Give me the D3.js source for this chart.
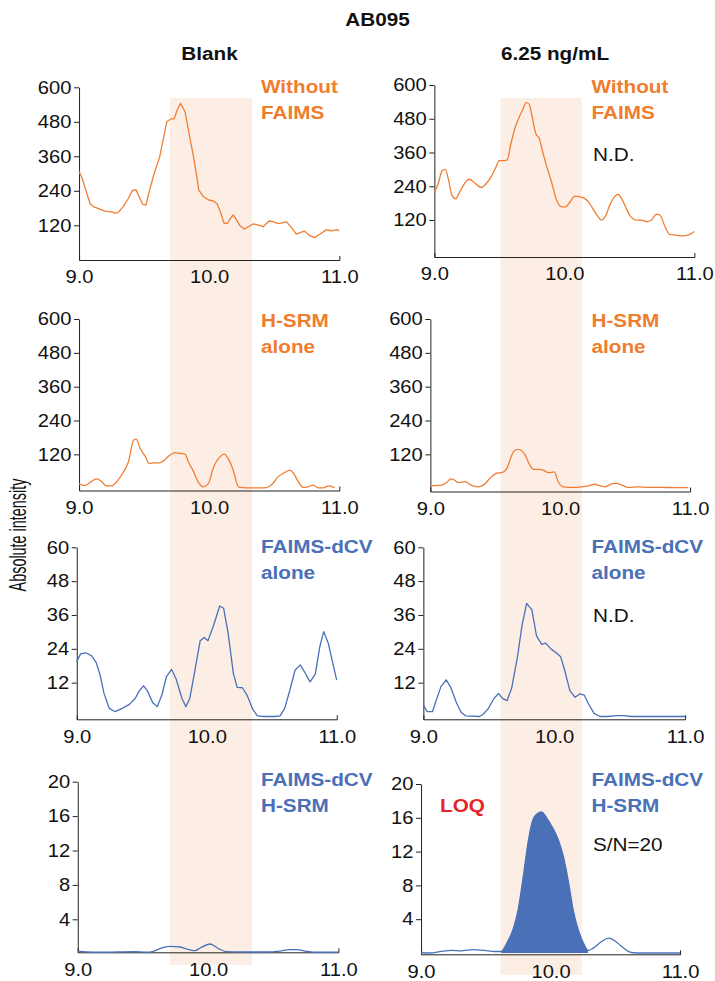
<!DOCTYPE html>
<meta charset="UTF-8">
<!-- Load d3.js -->
<script src="https://cdn.jsdelivr.net/npm/d3@7"></script>
<style>
  body { margin: 0; background: #fff; }
  svg text { font-family: "Liberation Sans", Arial, Helvetica, sans-serif; fill: #111; }
</style>
<div id="my_dataviz"></div>
<script>

// ticks
var xTicks = [9, 10, 11];
var yTicksHigh = [120, 240, 360, 480, 600];
var yTicksMid = [12, 24, 36, 48, 60];
var yTicksLow = [4, 8, 12, 16, 20];

var chartTitle = "AB095";
var columnTitles = ["Blank", "6.25 ng/mL"];

// highlighted retention window of each column (min)
var bandBlank = [9.70, 10.33];
var bandSpiked = [9.51, 10.135];

// [retention time (min), absolute intensity]
var blankWithout = [[9.0,307],[9.02,289],[9.085,196],[9.11,185],[9.16,176],[9.2,169],[9.26,166],[9.275,162],[9.3,164],[9.34,185],[9.38,214],[9.41,241],[9.44,243],[9.455,226],[9.49,193],[9.515,191],[9.53,220],[9.57,289],[9.62,359],[9.675,481],[9.705,490],[9.73,490],[9.755,521],[9.78,544],[9.815,515],[9.85,428],[9.88,359],[9.905,289],[9.92,243],[9.955,220],[9.995,208],[10.03,205],[10.06,196],[10.085,168],[10.115,127],[10.14,127],[10.16,142],[10.185,156],[10.21,139],[10.235,119],[10.27,107],[10.3,115],[10.34,125],[10.365,122],[10.415,115],[10.46,135],[10.49,133],[10.53,126],[10.595,132],[10.635,110],[10.67,89],[10.73,100],[10.775,84],[10.81,77],[10.85,89],[10.9,104],[10.94,101],[10.98,105],[11.0,101]];

var spikedWithout = [[9.0,217],[9.03,250],[9.06,295],[9.085,300],[9.11,262],[9.135,209],[9.165,195],[9.19,215],[9.225,244],[9.265,265],[9.29,260],[9.33,244],[9.36,236],[9.4,250],[9.44,276],[9.47,304],[9.5,331],[9.52,331],[9.56,333],[9.59,393],[9.62,446],[9.66,493],[9.685,517],[9.705,537],[9.73,531],[9.75,493],[9.78,428],[9.81,407],[9.83,369],[9.865,310],[9.905,250],[9.94,191],[9.98,167],[10.01,167],[10.045,185],[10.08,205],[10.115,203],[10.155,197],[10.185,185],[10.225,156],[10.26,132],[10.285,120],[10.315,132],[10.35,173],[10.39,205],[10.415,211],[10.44,197],[10.48,158],[10.51,132],[10.555,120],[10.595,120],[10.635,114],[10.67,120],[10.71,141],[10.735,138],[10.775,96],[10.81,69],[10.85,67],[10.915,64],[10.965,69],[11.0,79]];

var blankHsrm = [[9.0,15],[9.045,9],[9.085,20],[9.135,33],[9.175,23],[9.21,8],[9.25,8],[9.29,23],[9.335,53],[9.38,94],[9.42,171],[9.44,174],[9.47,141],[9.51,112],[9.54,88],[9.575,90],[9.615,90],[9.65,97],[9.685,112],[9.74,126],[9.775,123],[9.815,121],[9.84,94],[9.875,64],[9.92,19],[9.955,5],[9.995,17],[10.03,70],[10.085,112],[10.115,121],[10.145,106],[10.185,64],[10.225,5],[10.26,2],[10.315,1],[10.39,1],[10.44,2],[10.48,12],[10.53,41],[10.58,55],[10.62,64],[10.645,55],[10.685,23],[10.72,3],[10.76,5],[10.8,11],[10.84,1],[10.875,1],[10.92,8],[10.965,1]];

var spikedHsrm = [[9.0,9],[9.087,11],[9.126,20],[9.157,33],[9.185,29],[9.216,20],[9.267,23],[9.313,11],[9.365,5],[9.41,11],[9.46,35],[9.51,53],[9.55,55],[9.59,70],[9.615,102],[9.64,129],[9.673,138],[9.704,133],[9.73,118],[9.76,88],[9.795,67],[9.838,67],[9.87,64],[9.91,55],[9.955,58],[9.985,23],[10.025,5],[10.09,3],[10.166,5],[10.217,8],[10.264,14],[10.31,8],[10.345,5],[10.397,15],[10.435,17],[10.475,11],[10.525,3],[10.6,5],[10.68,3],[10.78,3],[10.885,2],[10.987,2]];

var blankFaims = [[9.0,19.4],[9.03,22.2],[9.07,22.6],[9.115,21.5],[9.15,19.1],[9.18,14.7],[9.21,8.2],[9.25,2.9],[9.295,1.7],[9.35,2.9],[9.405,4.3],[9.45,6.4],[9.48,9.0],[9.515,10.9],[9.545,9.0],[9.585,4.9],[9.62,3.5],[9.655,7.6],[9.69,14.1],[9.73,16.7],[9.765,13.3],[9.81,6.4],[9.84,3.5],[9.87,6.4],[9.91,16.5],[9.95,26.9],[9.98,28.0],[10.01,26.9],[10.05,31.9],[10.1,39.2],[10.13,38.4],[10.165,29.5],[10.205,15.3],[10.235,10.3],[10.275,10.2],[10.31,7.6],[10.355,2.5],[10.39,0.2],[10.435,0],[10.525,0],[10.565,0.2],[10.6,2.9],[10.64,9.4],[10.68,16.5],[10.72,18.3],[10.755,15.6],[10.795,12.3],[10.835,15.0],[10.87,24.8],[10.9,30.1],[10.935,26.0],[11.0,12.9]];

var spikedFaims = [[9.0,4.1],[9.03,1.7],[9.07,1.7],[9.1,5.9],[9.135,10.6],[9.175,13.0],[9.21,10.3],[9.255,4.7],[9.29,1.4],[9.325,0.2],[9.43,0],[9.46,0.9],[9.495,2.7],[9.54,6.4],[9.575,8.2],[9.605,6.4],[9.64,5.6],[9.675,10.0],[9.72,21.2],[9.755,32.5],[9.79,40.1],[9.83,37.8],[9.865,28.6],[9.905,25.6],[9.935,26.0],[9.98,23.8],[10.02,22.4],[10.05,21.2],[10.08,16.5],[10.12,9.2],[10.16,6.8],[10.195,8.0],[10.23,7.6],[10.26,4.7],[10.305,1.1],[10.35,0],[10.41,0],[10.475,0.3],[10.53,0.3],[10.59,0],[10.69,0],[11.0,0]];

var blankBoth = [[9.0,0.3],[9.07,0.2],[9.17,0.17],[9.3,0.2],[9.43,0.24],[9.53,0.17],[9.58,0.28],[9.63,0.6],[9.71,0.86],[9.785,0.78],[9.85,0.5],[9.9,0.35],[9.94,0.66],[10.015,1.13],[10.08,0.6],[10.14,0.24],[10.245,0.2],[10.45,0.2],[10.55,0.3],[10.63,0.47],[10.68,0.47],[10.745,0.3],[10.81,0.17],[10.96,0.17],[11.0,0.17]];

var spikedBoth = [[9.0,0.06],[9.07,0],[9.16,0.2],[9.24,0.3],[9.31,0.26],[9.405,0.41],[9.49,0.3],[9.57,0.18],[9.62,0.18],[9.67,1.38],[9.71,2.76],[9.75,5.1],[9.79,9.08],[9.83,13.4],[9.865,15.8],[9.9,16.5],[9.93,16.7],[9.97,16.0],[10.01,15.0],[10.06,13.4],[10.1,11.4],[10.14,8.3],[10.175,5.1],[10.215,2.7],[10.255,1.16],[10.29,0.3],[10.33,0.57],[10.395,1.36],[10.45,1.75],[10.485,1.56],[10.55,0.77],[10.625,0.06],[10.705,0],[11.0,0]];

// integrated peak window (LOQ trace)
var peakWindow = [9.62, 10.29];

var orange = "#f07e32", blue = "#4a71b8", red = "#e5232b";
var labelOrange = "#ef7d2e", labelBlue = "#4a70b8";

// picture seems stretched horizontally; draw in narrow coords and stretch back
var K = 1.12;
function X(v) { return v / K; }

var svg = d3.select("#my_dataviz")
  .append("svg")
    .attr("width", 715)
    .attr("height", 981);

var root = svg.append("g").attr("transform", "scale(" + K + ",1)");

// layout of the 8 panels (screen pixels)
var panels = [
  {data: blankWithout, col: 0, x0: 79, x1: 339.3, top: 87.3, zero: 259.8, axis: 260, max: 600, ticks: yTicksHigh, color: orange, smooth: false, label: ["Without", "FAIMS"], lc: labelOrange, ly: 93},
  {data: spikedWithout, col: 1, x0: 434.3, x1: 694.3, top: 85, zero: 253.8, axis: 257, max: 600, ticks: yTicksHigh, color: orange, smooth: true, label: ["Without", "FAIMS"], lc: labelOrange, ly: 93, note: "N.D.", ny: 161},
  {data: blankHsrm, col: 0, x0: 79, x1: 339.3, top: 319, zero: 488.2, axis: 490.5, max: 600, ticks: yTicksHigh, color: orange, smooth: true, label: ["H-SRM", "alone"], lc: labelOrange, ly: 327},
  {data: spikedHsrm, col: 1, x0: 430.3, x1: 690, top: 319, zero: 488.2, axis: 491.5, max: 600, ticks: yTicksHigh, color: orange, smooth: true, label: ["H-SRM", "alone"], lc: labelOrange, ly: 327},
  {data: blankFaims, col: 0, x0: 76.7, x1: 336.7, top: 547.3, zero: 716.5, axis: 719.3, max: 60, ticks: yTicksMid, color: blue, smooth: false, label: ["FAIMS-dCV", "alone"], lc: labelBlue, ly: 553},
  {data: spikedFaims, col: 1, x0: 423.3, x1: 685, top: 547.3, zero: 716.5, axis: 719.3, max: 60, ticks: yTicksMid, color: blue, smooth: false, label: ["FAIMS-dCV", "alone"], lc: labelBlue, ly: 553, note: "N.D.", ny: 622},
  {data: blankBoth, col: 0, x0: 77.7, x1: 338.3, top: 781.7, zero: 953.7, axis: 952.3, max: 20, ticks: yTicksLow, color: blue, smooth: true, label: ["FAIMS-dCV", "H-SRM"], lc: labelBlue, ly: 786},
  {data: spikedBoth, col: 1, x0: 421, x1: 680, top: 784, zero: 953, axis: 954.3, max: 20, ticks: yTicksLow, color: blue, smooth: true, label: ["FAIMS-dCV", "H-SRM"], lc: labelBlue, ly: 786, note: "S/N=20", ny: 851, loq: true}
];

var labelX = [261, 591.5];

// shaded retention window, one band per column
var bandG = root.append("g");
[[bandBlank, panels[0], 965], [bandSpiked, panels[1], 975]].forEach(function(b) {
  var x = d3.scaleLinear().domain([9, 11]).range([X(b[1].x0), X(b[1].x1)]);
  bandG.append("rect")
    .attr("x", x(b[0][0]))
    .attr("width", x(b[0][1]) - x(b[0][0]))
    .attr("y", 98)
    .attr("height", b[2] - 98)
    .attr("fill", "#fdeee5");
});

panels.forEach(function(p) {
  var g = root.append("g");

  var x = d3.scaleLinear().domain([9, 11]).range([X(p.x0), X(p.x1)]);
  var y0 = d3.scaleLinear().domain([0, p.max]).range([p.zero, p.top]);
  var y = d3.scaleLinear().domain([y0.invert(p.axis), p.max]).range([p.axis, p.top]);

  // y axis
  var ya = g.append("g")
    .attr("transform", "translate(" + X(p.x0) + ",0)")
    .call(d3.axisLeft(y).tickValues(p.ticks).tickSize(X(5)).tickSizeOuter(0).tickPadding(X(2.5)));

  // x axis
  var xa = g.append("g")
    .attr("transform", "translate(0," + p.axis + ")")
    .call(d3.axisBottom(x).tickValues(xTicks).tickFormat(d3.format(".1f"))
      .tickSizeInner(0).tickSizeOuter(-4).tickPadding(10.5));

  [ya, xa].forEach(function(a) {
    a.select(".domain").attr("stroke", "#222").attr("vector-effect", "non-scaling-stroke");
    a.selectAll(".tick line").attr("stroke", "#222").attr("vector-effect", "non-scaling-stroke");
    a.selectAll("text").style("font-size", "18px").attr("fill", "#111");
  });

  // filled LOQ peak
  if (p.loq) {
    g.append("path")
      .datum(p.data.filter(function(d) { return d[0] >= peakWindow[0] && d[0] <= peakWindow[1]; }))
      .attr("fill", p.color)
      .attr("d", d3.area()
        .curve(d3.curveMonotoneX)
        .x(function(d) { return x(d[0]); })
        .y0(y(0))
        .y1(function(d) { return y(d[1]); }));
  }

  // trace
  g.append("path")
    .datum(p.data)
    .attr("fill", "none")
    .attr("stroke", p.color)
    .attr("stroke-width", 1.3)
    .attr("stroke-linejoin", "round")
    .attr("vector-effect", "non-scaling-stroke")
    .attr("d", d3.line()
      .curve(p.smooth ? d3.curveMonotoneX : d3.curveLinear)
      .x(function(d) { return x(d[0]); })
      .y(function(d) { return y(d[1]); }));

  // panel label
  var lx = X(labelX[p.col]);
  p.label.forEach(function(t, i) {
    g.append("text")
      .attr("x", lx)
      .attr("y", p.ly + i * 25.8)
      .style("font-size", "18.5px")
      .style("font-weight", "bold")
      .style("fill", p.lc)
      .text(t);
  });

  if (p.note) {
    g.append("text")
      .attr("x", X(593))
      .attr("y", p.ny)
      .style("font-size", "18.5px")
      .text(p.note);
  }

  if (p.loq) {
    g.append("text")
      .attr("x", X(440))
      .attr("y", 812)
      .style("font-size", "18.5px")
      .style("font-weight", "bold")
      .style("fill", red)
      .text("LOQ");
  }
});

// titles
root.append("text")
  .attr("x", X(377.5)).attr("y", 26)
  .attr("text-anchor", "middle")
  .style("font-size", "18.5px").style("font-weight", "bold")
  .text(chartTitle);

[209.5, 555].forEach(function(cx, i) {
  root.append("text")
    .attr("x", X(cx)).attr("y", 60)
    .attr("text-anchor", "middle")
    .style("font-size", "18.5px").style("font-weight", "bold")
    .text(columnTitles[i]);
});

root.append("text")
  .attr("transform", "translate(" + X(26) + ",535) rotate(-90) scale(0.9,1.3)")
  .attr("text-anchor", "middle")
  .style("font-size", "16px")
  .text("Absolute intensity");

</script>
